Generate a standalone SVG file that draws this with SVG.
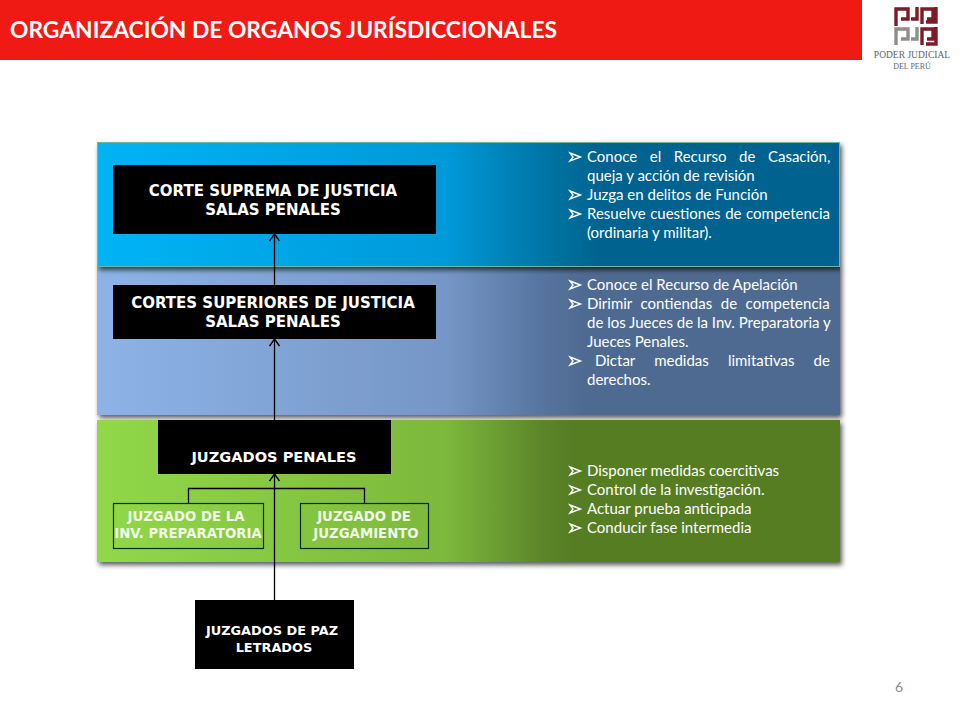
<svg xmlns="http://www.w3.org/2000/svg" width="960" height="720" viewBox="0 0 960 720">
<style>
.box{fill:#000}
.bt{font-family:"DejaVu Sans","Liberation Sans",sans-serif;font-weight:700;fill:#fff;text-anchor:middle}
.lb{font-family:"DejaVu Sans","Liberation Sans",sans-serif;font-weight:700;fill:#f0fae6;text-anchor:middle;font-size:13.3px}
.li{font-family:Lato,"Open Sans",sans-serif;fill:#fff;font-size:15px}
.ln{stroke:#000;stroke-width:1.3;fill:none}
.ol{fill:none;stroke:#062a12;stroke-width:1.2}
.bu{fill:none;stroke:#fff;stroke-width:1.4}
.lg{fill:none;stroke-width:3.4}
</style>
<defs>
<linearGradient id="gb"><stop offset="0" stop-color="#00b4f6"/><stop offset="0.47" stop-color="#0099d9"/><stop offset="0.62" stop-color="#00709f"/><stop offset="0.68" stop-color="#00628f"/><stop offset="1" stop-color="#00628f"/></linearGradient>
<linearGradient id="gm"><stop offset="0" stop-color="#8db3e6"/><stop offset="0.47" stop-color="#7596c6"/><stop offset="0.6" stop-color="#56749f"/><stop offset="0.66" stop-color="#4f6a90"/><stop offset="1" stop-color="#4f6a90"/></linearGradient>
<linearGradient id="gg"><stop offset="0" stop-color="#91d849"/><stop offset="0.47" stop-color="#7cb83c"/><stop offset="0.6" stop-color="#5c8529"/><stop offset="0.64" stop-color="#567d24"/><stop offset="1" stop-color="#567d24"/></linearGradient>
<filter id="sh" x="-3%" y="-6%" width="106%" height="114%"><feDropShadow dx="2" dy="3" stdDeviation="2.4" flood-color="#000" flood-opacity="0.65"/></filter>
<marker id="ar" viewBox="0 0 12 12" refX="11" refY="6" markerWidth="12" markerHeight="12" markerUnits="userSpaceOnUse" orient="auto"><path d="M4 1 L11 6 L4 11" fill="none" stroke="#000" stroke-width="1.4"/></marker>
<g id="bl"><path class="bu" d="M0 -9 L10.500 -5 L0 -1 L3 -5 Z"/></g>
</defs>
<rect width="960" height="720" fill="#fff"/>
<g id="header">
<rect width="862" height="60" fill="#f01a14"/>
<text x="10" y="38" font-family="Lato,'Open Sans',sans-serif" font-weight="700" font-size="23" fill="#fff" textLength="547" lengthAdjust="spacingAndGlyphs">ORGANIZACIÓN DE ORGANOS JURÍSDICCIONALES</text>
</g>
<g id="logo">
<path class="lg" stroke="#7b1c26" d="M896 26 V9 H908 V19 H901 M911 19 H917 V7 M922 24 V9 H933 V19 H927 M936 7 V22 H926"/>
<path class="lg" stroke="#8f8f8a" d="M896 45 V29 H908 V39 H901 M911 39 H917 V27"/>
<path class="lg" stroke="#7b1c26" d="M922 45 V29 H933 V39 H927 M936 27 V44 H926"/>
<text x="912" y="58" text-anchor="middle" font-family="'Liberation Serif',serif" font-size="9.5" fill="#666">PODER JUDICIAL</text>
<text x="912" y="69" text-anchor="middle" font-family="'Liberation Serif',serif" font-size="8" fill="#666">DEL PERÚ</text>
</g>
<g id="panel-medio"><rect x="97" y="266" width="743" height="149" fill="url(#gm)" filter="url(#sh)"/></g>
<g id="panel-suprema"><rect x="97.500" y="142.500" width="742" height="124" fill="url(#gb)" stroke="#6fb89a" stroke-width="1" filter="url(#sh)"/></g>
<g id="panel-penales"><rect x="97" y="420" width="743" height="142" fill="url(#gg)" filter="url(#sh)"/></g>
<g id="corte-suprema"><rect class="box" x="113" y="165" width="323" height="69"/>
<text class="bt" font-size="15" x="273" y="196">CORTE SUPREMA DE JUSTICIA</text><text class="bt" font-size="15" x="273" y="215">SALAS PENALES</text></g>
<g id="cortes-superiores"><rect class="box" x="113" y="285" width="323" height="54"/>
<text class="bt" font-size="15" x="273" y="308">CORTES SUPERIORES DE JUSTICIA</text><text class="bt" font-size="15" x="273" y="327">SALAS PENALES</text></g>
<g id="juzgados-penales"><rect class="box" x="158" y="420" width="233" height="54"/>
<text class="bt" font-size="14.600" x="274" y="462">JUZGADOS PENALES</text></g>
<g id="juzgado-inv"><rect class="ol" x="113.500" y="503.500" width="150" height="45"/>
<text class="lb" x="186" y="521">JUZGADO DE LA</text><text class="lb" x="188" y="538">INV. PREPARATORIA</text></g>
<g id="juzgado-juzg"><rect class="ol" x="300.500" y="503.500" width="128" height="45"/>
<text class="lb" x="364" y="521">JUZGADO DE</text><text class="lb" x="366" y="538">JUZGAMIENTO</text></g>
<g id="juzgados-paz"><rect class="box" x="195" y="600" width="159" height="69"/>
<text class="bt" font-size="12.900" x="272" y="635">JUZGADOS DE PAZ</text><text class="bt" font-size="12.900" x="274" y="652">LETRADOS</text></g>
<g id="connectors">
<path class="ln" d="M274.500 285 V234" marker-end="url(#ar)"/>
<path class="ln" d="M274.500 420 V339" marker-end="url(#ar)"/>
<path class="ln" d="M274.500 600 V474" marker-end="url(#ar)"/>
<path class="ln" d="M188.500 503 V488.500 H364.500 V503"/>
</g>
<g id="texto-suprema">
<use href="#bl" x="570" y="162"/><text class="li" x="587" y="162" word-spacing="8.700">Conoce el Recurso de Casación,</text>
<text class="li" x="587" y="181">queja y acción de revisión</text>
<use href="#bl" x="570" y="200"/><text class="li" x="587" y="200">Juzga en delitos de Función</text>
<use href="#bl" x="570" y="219"/><text class="li" x="587" y="219" word-spacing="0.700">Resuelve cuestiones de competencia</text>
<text class="li" x="587" y="238">(ordinaria y militar).</text>
</g>
<g id="texto-superiores">
<use href="#bl" x="570" y="290"/><text class="li" x="587" y="290">Conoce el Recurso de Apelación</text>
<use href="#bl" x="570" y="309"/><text class="li" x="587" y="309" word-spacing="4.700">Dirimir contiendas de competencia</text>
<text class="li" x="587" y="328">de los Jueces de la Inv. Preparatoria y</text>
<text class="li" x="587" y="347">Jueces Penales.</text>
<use href="#bl" x="570" y="366"/><text class="li" x="595" y="366" word-spacing="15.300">Dictar medidas limitativas de</text>
<text class="li" x="587" y="385">derechos.</text>
</g>
<g id="texto-penales">
<use href="#bl" x="570" y="476"/><text class="li" x="587" y="476">Disponer medidas coercitivas</text>
<use href="#bl" x="570" y="495"/><text class="li" x="587" y="495">Control de la investigación.</text>
<use href="#bl" x="570" y="514"/><text class="li" x="587" y="514">Actuar prueba anticipada</text>
<use href="#bl" x="570" y="533"/><text class="li" x="587" y="533">Conducir fase intermedia</text>
</g>
<text id="page" x="899" y="692" text-anchor="middle" font-family="Lato,'Open Sans',sans-serif" font-size="14" fill="#8a8a8a">6</text>
</svg>
